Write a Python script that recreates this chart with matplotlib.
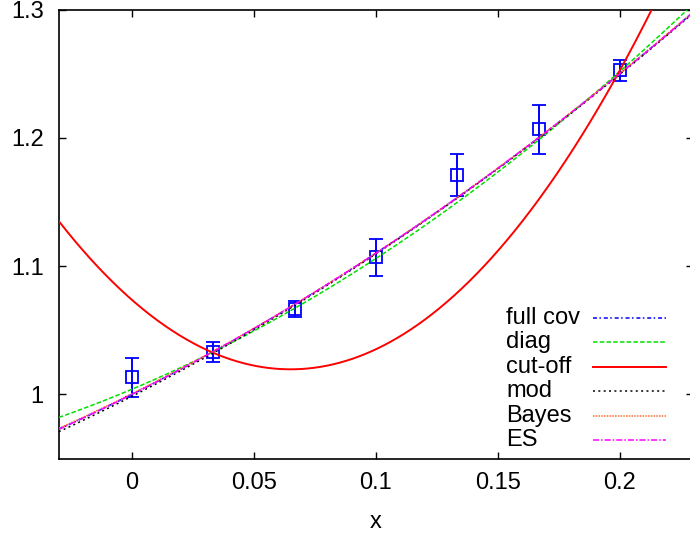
import numpy as np
import matplotlib
matplotlib.use("Agg")
import matplotlib.pyplot as plt
from matplotlib.lines import Line2D

plt.rcParams['font.family'] = ['Liberation Sans', 'DejaVu Sans']

# data points
x_data = [0.0, 1/30, 2/30, 3/30, 4/30, 5/30, 6/30]
y_data = [1.0135, 1.0328, 1.0665, 1.1068, 1.1711, 1.2065, 1.2525]
y_err = [0.0152, 0.0078, 0.0062, 0.0146, 0.0164, 0.0190, 0.0082]

# quadratic fit coefficients (a, b, c): y = a + b x + c x^2
fit_names = ["full cov", "diag", "cut-off", "mod", "Bayes", "ES"]
fit_a = [1.0000, 1.0040, 1.0736, 0.9985, 1.0005, 1.0000]
fit_b = [0.9500, 0.7993, -1.6640, 0.9650, 0.9450, 0.9520]
fit_c = [1.5000, 2.2000, 12.8000, 1.4500, 1.5200, 1.4900]
fit_colors = ["#0000ff", "#00e000", "#ff0000", "#000000", "#ff6a2a", "#ff00ff"]

x_ticks = [0, 0.05, 0.1, 0.15, 0.2]
x_ticklabels = ["0", "0.05", "0.1", "0.15", "0.2"]
y_ticks = [1.0, 1.1, 1.2, 1.3]
y_ticklabels = ["1", "1.1", "1.2", "1.3"]

FS = 17
W, H = 690, 535
fig = plt.figure(figsize=(W/100, H/100), dpi=100)
left_px, right_px, top_px, bot_px = 58.8, 693.2, 9.5, 458.5
ax = fig.add_axes([left_px/W, 1 - bot_px/H, (right_px-left_px)/W, (bot_px-top_px)/H])
ax.set_xlim(-0.03, 0.23)
ax.set_ylim(0.95, 1.3)

lw = 1.1
styles = [
    dict(dashes=(2.6, 1.6, 1.0, 1.9)),
    dict(dashes=(3.0, 1.4)),
    dict(linestyle='-', lw=1.4),
    dict(dashes=(1.3, 2.2)),
    dict(dashes=(1.0, 0.8)),
    dict(dashes=(4.0, 1.3, 1.0, 1.3)),
]

ax.errorbar(x_data, y_data, yerr=y_err, fmt='s', mfc='none', mec='#0000ff',
            ms=8, mew=1.3, ecolor='#0000ff', elinewidth=1.4, capsize=5,
            capthick=1.4, zorder=2)

xs = np.linspace(-0.03, 0.23, 600)
for i, name in enumerate(fit_names):
    ys = fit_a[i] + fit_b[i]*xs + fit_c[i]*xs**2
    kw = dict(styles[i])
    kw.setdefault('lw', lw)
    ax.plot(xs, ys, color=fit_colors[i], zorder=3+i, **kw)

ax.set_xticks(x_ticks)
ax.set_xticklabels(x_ticklabels)
ax.set_yticks(y_ticks)
ax.set_yticklabels(y_ticklabels)
ax.tick_params(direction='in', length=5, width=1, top=True, right=True,
               labelsize=FS)
ax.tick_params(axis='x', pad=10)
ax.tick_params(axis='y', pad=11)
for s in ax.spines.values():
    s.set_linewidth(1.2)
ax.set_xlabel("x", fontsize=FS, labelpad=12)

# key
text_x = 506
line_x0, line_x1 = 593, 666
row_y0, row_dy = 318, 24.4
for i, name in enumerate(fit_names):
    yy = 1 - (row_y0 + row_dy*i)/H
    fig.text(text_x/W, yy, name, fontsize=FS, va='center', ha='left')
    kw = dict(styles[i])
    kw.setdefault('lw', lw)
    fig.add_artist(Line2D([line_x0/W, line_x1/W], [yy, yy], color=fit_colors[i],
                          transform=fig.transFigure, **kw))

fig.savefig("out.png", dpi=100)
